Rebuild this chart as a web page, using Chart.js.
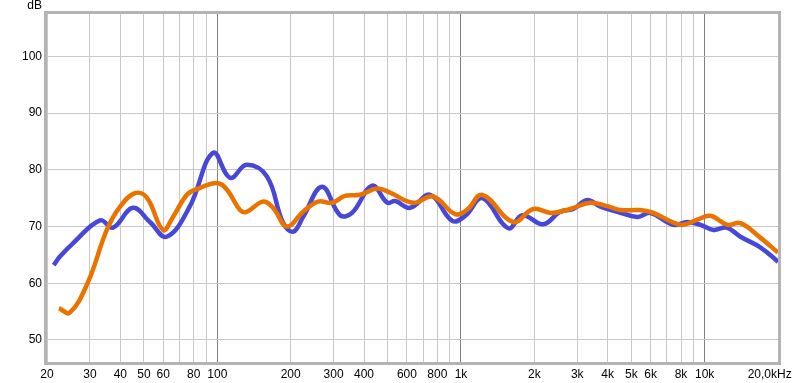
<!DOCTYPE html>
<html>
<head>
<meta charset="utf-8">
<script src="https://cdn.jsdelivr.net/npm/chart.js@4.4.1/dist/chart.umd.min.js"></script>
<style>
  body { margin: 0; background: #fff; }
  #wrap { width: 800px; height: 383px; position: relative; }
</style>
</head>
<body>
<div id="wrap"><canvas id="fr"></canvas></div>
<script>
// frequency response, two measurements (Hz / dB)
const blueFreq = [21.3, 22.6, 25.5, 33, 37.3, 45, 52.9, 62, 77, 96, 113, 132, 160, 186, 205, 225, 269, 319, 357, 432, 498, 537, 618, 748, 921, 1042, 1223, 1564, 1785, 2174, 2553, 2890, 3297, 3736, 4384, 5297, 5985, 7443, 8494, 9617, 10870, 12300, 14030, 16970, 20000];
const blueDb   = [63.2, 64.7, 67.0, 71.1, 69.8, 73.3, 70.8, 68.2, 73.5, 83.0, 78.6, 80.9, 78.8, 70.7, 69.1, 71.7, 77.0, 72.0, 72.4, 77.2, 74.2, 74.5, 73.3, 75.6, 71.0, 71.9, 75.0, 69.7, 72.0, 70.4, 72.6, 73.1, 74.7, 73.5, 72.6, 71.7, 72.4, 70.3, 70.8, 70.3, 69.4, 69.8, 68.2, 66.3, 63.8];

const orangeFreq = [22.4, 24.8, 29.4, 35.2, 39.9, 45.9, 51.4, 59.9, 65.8, 75, 82.6, 99.8, 109.6, 123.9, 132, 153.9, 169.4, 193, 225, 259, 296, 334, 385, 453, 511, 637, 769, 946, 1061, 1223, 1637, 1979, 2340, 2806, 3390, 3984, 4515, 5407, 6155, 7443, 8177, 9330, 10560, 12390, 14030, 16970, 20000];
const orangeDb   = [55.6, 54.8, 60.1, 69.4, 73.5, 75.9, 75.1, 69.4, 71.7, 75.6, 76.6, 77.7, 76.5, 72.9, 72.6, 74.4, 73.3, 70.0, 72.6, 74.4, 74.2, 75.4, 75.6, 76.7, 76.0, 74.2, 75.3, 72.2, 73.0, 75.6, 70.8, 73.1, 72.4, 73.1, 74.2, 73.6, 72.9, 72.9, 72.4, 70.7, 70.3, 71.2, 71.9, 70.3, 70.6, 68.0, 65.4];

const xGrid = [20, 30, 40, 50, 60, 70, 80, 90, 100, 200, 300, 400, 500, 600, 700, 800, 900, 1000, 2000, 3000, 4000, 5000, 6000, 7000, 8000, 9000, 10000, 20000];
// last label padded with spaces so it sits a bit left of the edge, like the original
const xLabels = { 20: '20', 30: '30', 40: '40', 50: '50', 60: '60', 80: '80', 100: '100', 200: '200', 300: '300', 400: '400', 600: '600', 800: '800', 1000: '1k', 2000: '2k', 3000: '3k', 4000: '4k', 5000: '5k', 6000: '6k', 8000: '8k', 10000: '10k', 20000: '20,0kHz     ' };
const yTicks = [50, 60, 70, 80, 90, 100];

const toPts = (fs, vs) => fs.map((f, i) => ({ x: f, y: vs[i] }));

const frame = {
  id: 'frame',
  afterDraw(chart) {
    const { ctx, chartArea: a } = chart;
    ctx.save();
    ctx.strokeStyle = '#b4b4b4';
    ctx.lineWidth = 3;
    ctx.strokeRect(a.left - 1.5, a.top - 1.5, a.right - a.left + 3, a.bottom - a.top + 3);
    ctx.fillStyle = '#000';
    ctx.font = '12px "Liberation Sans", Arial, sans-serif';
    ctx.textAlign = 'right';
    ctx.textBaseline = 'middle';
    ctx.fillText('dB', 42, 6);
    ctx.restore();
  }
};

new Chart(document.getElementById('fr'), {
  type: 'line',
  data: {
    datasets: [
      {
        label: 'orange',
        data: toPts(orangeFreq, orangeDb),
        borderColor: '#ea7300',
        borderWidth: 4.5,
        pointRadius: 0,
        tension: 0.4,
        fill: false
      },
      {
        label: 'blue',
        data: toPts(blueFreq, blueDb),
        borderColor: '#4848d8',
        borderWidth: 4.5,
        pointRadius: 0,
        tension: 0.4,
        fill: false
      }
    ]
  },
  options: {
    responsive: true,
    maintainAspectRatio: false,
    animation: false,
    layout: { padding: { top: 14, right: 22, left: 0, bottom: 0 } },
    plugins: { legend: { display: false }, tooltip: { enabled: false } },
    scales: {
      x: {
        type: 'logarithmic',
        min: 20,
        max: 20000,
        afterBuildTicks: s => { s.ticks = xGrid.map(v => ({ value: v })); },
        afterFit: s => { s.height = 21; s.paddingLeft = 0; s.paddingRight = 0; },
        grid: {
          drawTicks: false,
          color: c => [100, 1000, 10000].includes(c.tick.value) ? '#808080' : '#c8c8c8'
        },
        border: { display: false },
        ticks: {
          autoSkip: false,
          maxRotation: 0,
          padding: 5,
          color: '#000',
          font: { family: '"Liberation Sans", Arial, sans-serif', size: 12 },
          callback: v => xLabels[v] || ''
        }
      },
      y: {
        min: 46.1,
        max: 107.5,
        afterBuildTicks: s => { s.ticks = yTicks.map(v => ({ value: v })); },
        afterFit: s => { s.width = 47; },
        grid: { drawTicks: false, color: '#c8c8c8' },
        border: { display: false },
        ticks: {
          padding: 5,
          color: '#000',
          font: { family: '"Liberation Sans", Arial, sans-serif', size: 12 }
        }
      }
    }
  },
  plugins: [frame]
});
</script>
</body>
</html>
